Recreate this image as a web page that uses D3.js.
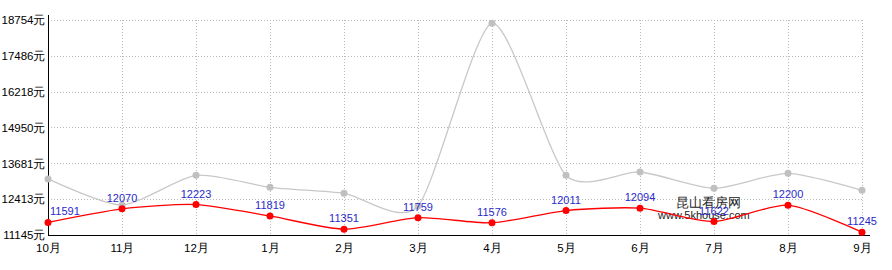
<!DOCTYPE html>
<html><head><meta charset="utf-8">
<script src="https://cdn.jsdelivr.net/npm/d3@7"></script>
<style>body{margin:0;background:#fff}svg{display:block}text{font-family:"Liberation Sans",Arial,sans-serif}</style>
</head><body><svg id="c" width="892" height="270"></svg>
<script>
const months = ["10月","11月","12月","1月","2月","3月","4月","5月","6月","7月","8月","9月"];
const priceRed = [11591,12070,12223,11819,11351,11759,11576,12011,12094,11622,12200,11245];
const priceGray = [13130,12207,13258,12833,12621,12171,18637,13258,13375,12798,13329,12727];
const yTicks = [11145,12413,13681,14950,16218,17486,18754];

(function(){
const svg = d3.select("#c");
const pL = 48, pR = 862, pT = 20, pB = 235;
const x = d3.scalePoint().domain(months).range([pL, pR]);
const y = d3.scaleLinear().domain([11145, 18754]).range([pB, pT]);

// grid
const g = svg.append("g");
g.selectAll(".hg").data(yTicks.slice(1)).join("line")
  .attr("x1", pL).attr("x2", pR).attr("y1", d => Math.round(y(d)) + 0.5).attr("y2", d => Math.round(y(d)) + 0.5)
  .attr("stroke", "#bbb").attr("stroke-dasharray", "1,2");
g.selectAll(".vg").data(months.slice(1)).join("line")
  .attr("x1", d => Math.round(x(d)) + 0.5).attr("x2", d => Math.round(x(d)) + 0.5).attr("y1", pT).attr("y2", pB)
  .attr("stroke", "#bbb").attr("stroke-dasharray", "1,2");

// axes
const yAxis = d3.axisLeft(y).tickValues(yTicks).tickSize(0).tickPadding(3).tickFormat(d => d + "元");
const ya = svg.append("g").attr("transform", `translate(${pL + 0.5},0)`).call(yAxis);
ya.select(".domain").remove();
ya.selectAll("text").attr("font-size", 11.5).attr("fill", "#000").attr("font-family", "Liberation Sans, Arial, sans-serif");
svg.append("line").attr("x1", pL + 0.5).attr("x2", pL + 0.5).attr("y1", 15).attr("y2", pB).attr("stroke", "#000");

const xAxis = d3.axisBottom(x).tickSize(0).tickPadding(8);
const xa = svg.append("g").attr("transform", `translate(0,${pB + 0.5})`).call(xAxis);
xa.select(".domain").remove();
xa.selectAll("text").attr("font-size", 11.5).attr("fill", "#000").attr("font-family", "Liberation Sans, Arial, sans-serif");
svg.append("line").attr("x1", pL).attr("x2", 870).attr("y1", pB + 0.5).attr("y2", pB + 0.5).attr("stroke", "#000");

const line = d3.line().x((d, i) => x(months[i])).y(d => y(d)).curve(d3.curveCardinal.tension(0.3));

// gray series
svg.append("path").datum(priceGray).attr("d", line).attr("fill", "none").attr("stroke", "#c8c8c8").attr("stroke-width", 1.3);
svg.selectAll(".gd").data(priceGray).join("circle").attr("cx", (d, i) => x(months[i])).attr("cy", d => y(d)).attr("r", 3.5).attr("fill", "#c0c0c0");

// watermark
svg.append("text").attr("x", 676).attr("y", 207).attr("font-size", 13).attr("fill", "#222").attr("font-family", "Noto Sans CJK SC, sans-serif").text("昆山看房网");
svg.append("text").attr("x", 658).attr("y", 219).attr("font-size", 11).attr("fill", "#222").text("www.5khouse.com");

// red series
svg.append("path").datum(priceRed).attr("d", line).attr("fill", "none").attr("stroke", "#ff0000").attr("stroke-width", 1.3);
svg.selectAll(".rd").data(priceRed).join("circle").attr("cx", (d, i) => x(months[i])).attr("cy", d => y(d)).attr("r", 3.5).attr("fill", "#ff0000");

svg.selectAll(".lb").data(priceRed).join("text")
  .attr("x", (d, i) => i === 0 ? x(months[i]) + 2 : x(months[i]))
  .attr("y", d => y(d) - 7)
  .attr("text-anchor", (d, i) => i === 0 ? "start" : "middle")
  .attr("font-size", 11).attr("fill", "#2a2acc").text(d => d);
})();
</script></body></html>
